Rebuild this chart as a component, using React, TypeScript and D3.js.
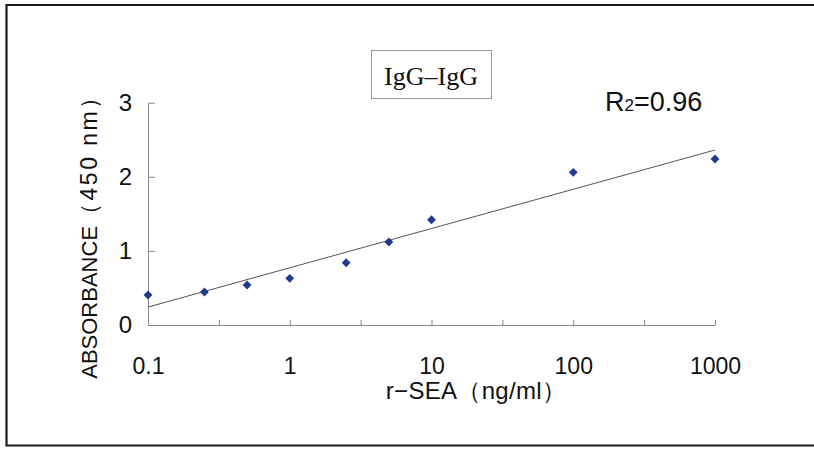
import React, {useEffect, useRef} from 'react'
import * as d3 from 'd3'

// concentrations (ng/ml) and absorbance
const concentrations = [0.1, 0.25, 0.5, 1, 2.5, 5, 10, 100, 1000]
const absorbance = [0.405, 0.445, 0.54, 0.63, 0.84, 1.12, 1.42, 2.06, 2.24]
const xMajorTicks = [0.1, 1, 10, 100, 1000]
const yTicks = [0, 1, 2, 3]
const chartTitle = 'IgG–IgG'
const rSquaredLabel = '0.96'

const W = 814, H = 449
const FONT = 'Liberation Sans, Arial, sans-serif'

export default function App(){
    const ref = useRef<SVGSVGElement>(null)

    useEffect(() => {
        const svg = d3.select(ref.current)
        svg.selectAll('*').remove()

        // outer frame (no right edge in the scan)
        svg.append('path')
            .attr('d', `M${W},5 L6.5,5 L6.5,445.5 L${W},445.5`)
            .attr('fill', 'none')
            .attr('stroke', '#1a1a1a')
            .attr('stroke-width', 2.2)

        const x = d3.scaleLog().domain([0.1, 1000]).range([148, 715])
        const y = d3.scaleLinear().domain([0, 3]).range([325, 102.7])

        // half-decade ticks between the labelled ones
        const xTicks: number[] = []
        xMajorTicks.forEach((t, i) => {
            xTicks.push(t)
            if (i < xMajorTicks.length - 1) xTicks.push(Math.sqrt(t * xMajorTicks[i + 1]))
        })

        const xAxis = svg.append('g')
            .attr('transform', `translate(0, ${y(0)})`)
            .call(d3.axisBottom(x).tickValues(xTicks).tickSize(-5).tickSizeOuter(0).tickPadding(33)
                .tickFormat((d: any) => xMajorTicks.includes(d) ? String(d) : ''))
        xAxis.select('.domain').attr('stroke', '#8a8a8a')
        xAxis.selectAll('.tick line').attr('stroke', '#8a8a8a')
        xAxis.selectAll('.tick text')
            .attr('font-family', FONT)
            .attr('font-size', 23)
            .attr('fill', '#111')

        const yAxis = svg.append('g')
            .attr('transform', `translate(${x(0.1)}, 0)`)
            .call(d3.axisLeft(y).tickValues(yTicks).tickSize(-7).tickSizeOuter(0).tickPadding(16)
                .tickFormat(d3.format('d')))
        yAxis.select('.domain').attr('stroke', '#8a8a8a')
        yAxis.selectAll('.tick line').attr('stroke', '#8a8a8a')
        yAxis.selectAll('.tick text')
            .attr('font-family', FONT)
            .attr('font-size', 24)
            .attr('fill', '#111')

        // log trend line (least squares on log10 x)
        const lx = concentrations.map(v => Math.log10(v))
        const mx = d3.mean(lx) as number
        const my = d3.mean(absorbance) as number
        const sxy = d3.sum(lx, (v, i) => (v - mx) * (absorbance[i] - my))
        const sxx = d3.sum(lx, v => (v - mx) * (v - mx))
        const b = sxy / sxx, a = my - b * mx
        const fit = (v: number) => a + b * Math.log10(v)
        svg.append('path')
            .datum(x.domain())
            .attr('d', d3.line<number>().x(d => x(d)).y(d => y(fit(d))))
            .attr('fill', 'none')
            .attr('stroke', '#555')
            .attr('stroke-width', 1)

        // diamond markers
        svg.selectAll('.pt').data(concentrations).join('path')
            .attr('class', 'pt')
            .attr('d', d3.symbol().type(d3.symbolDiamond2).size(50))
            .attr('transform', (d, i) => `translate(${x(d)}, ${y(absorbance[i])})`)
            .attr('fill', '#213a8c')

        // title box
        svg.append('rect')
            .attr('x', 371.5).attr('y', 50.5).attr('width', 120).attr('height', 48)
            .attr('fill', 'none').attr('stroke', '#9a9a9a').attr('stroke-width', 1)
        svg.append('text')
            .attr('x', 431).attr('y', 85)
            .attr('text-anchor', 'middle')
            .attr('font-family', 'Liberation Serif, Times New Roman, serif')
            .attr('font-size', 26)
            .attr('fill', '#111')
            .text(chartTitle)

        // R2 label
        const r2 = svg.append('text')
            .attr('x', 605).attr('y', 111)
            .attr('font-family', FONT)
            .attr('font-size', 27)
            .attr('fill', '#111')
        r2.append('tspan').text('R')
        r2.append('tspan').attr('font-size', 17).text('2')
        r2.append('tspan').text('=' + rSquaredLabel)

        // axis titles
        svg.append('text')
            .attr('x', 476).attr('y', 399)
            .attr('text-anchor', 'middle')
            .attr('font-family', FONT)
            .attr('font-size', 24)
            .attr('letter-spacing', 0.3)
            .attr('fill', '#111')
            .text('r−SEA（ng/ml）')

        const yTitle = svg.append('text')
            .attr('transform', 'translate(97, 231) rotate(-90)')
            .attr('text-anchor', 'middle')
            .attr('font-family', FONT)
            .attr('font-size', 22)
            .attr('fill', '#111')
        yTitle.append('tspan').text('ABSORBANCE')
        yTitle.append('tspan').attr('font-size', 23).attr('letter-spacing', 2.5).text('（450 nm）')
    }, [])

    return (
        <svg ref={ref} width={W} height={H}
            style={{position: 'absolute', left: 0, top: 0, background: '#fff'}}></svg>
    )
}
